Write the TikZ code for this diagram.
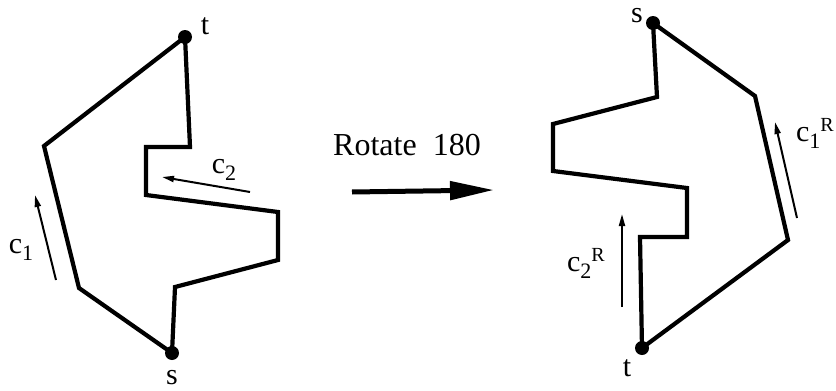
\documentclass[tikz,border=0pt]{standalone}
\usepackage{fontspec}
\setmainfont{Liberation Serif}
\usetikzlibrary{arrows.meta, positioning}
\newcommand{\csub}[1]{\raisebox{-7pt}{\fontsize{22}{22}\selectfont #1}}
\newcommand{\csup}[1]{\raisebox{10pt}{\fontsize{20}{20}\selectfont #1}}
\tikzset{
  every picture/.style={line join=miter},
  edge/.style={line width=4.2pt},
  dot/.style={circle, fill=black, minimum size=14pt, inner sep=0pt},
  lbl/.style={font=\fontsize{30}{34}\selectfont, inner sep=0pt},
  thinarrow/.style={-{Triangle[length=12pt,width=6pt]}, line width=2pt},
  bigarrow/.style={-{Triangle[length=44pt,width=18pt]}, line width=5pt},
}

\begin{document}
\begin{tikzpicture}[x=1pt, y=-1pt]
  \useasboundingbox (0,0) rectangle (836,391);
  % original path, s to t
  \node[dot] (ls) at (172,353) {};
  \node[dot] (lt) at (185,37) {};
  \draw[edge] (lt.center) -- (190,147) -- (146,147) -- (146,195) -- (278,212)
    -- (278,260) -- (175,287) -- (ls.center) -- (79,288) -- (44,146) -- cycle;
  \node[lbl] (tl) at (205,26) {t};
  \node[lbl] (sl) at (172,378) {s};
  % c1 and c2 on the left
  \coordinate (c1a) at (56,280);
  \coordinate (c1b) at (35,195);
  \draw[thinarrow] (c1a) -- (c1b);
  \node[lbl] (c1l) at (21,250) {c\csub{1}};
  \coordinate (c2a) at (250,192);
  \coordinate (c2b) at (162,177);
  \draw[thinarrow] (c2a) -- (c2b);
  \node[lbl] (c2l) at (224,170) {c\csub{2}};
  % rotation
  \node[lbl, font=\fontsize{32}{36}\selectfont] (rot) at (407,145) {Rotate\ \ 180};
  \coordinate (ra) at (352,192);
  \coordinate (rb) at (494,190);
  \draw[bigarrow] (ra) -- (rb);
  % rotated path
  \node[dot] (rs) at (653,23) {};
  \node[dot] (rt) at (642,348) {};
  \draw[edge] (rs.center) -- (657,97) -- (553,124) -- (553,171) -- (687,188)
    -- (687,237) -- (640,237) -- (rt.center) -- (788,240) -- (755,96) -- cycle;
  \node[lbl] (sr) at (637,16) {s};
  \node[lbl] (tr) at (627,368) {t};
  \coordinate (c1ra) at (797,218);
  \coordinate (c1rb) at (775,122);
  \draw[thinarrow] (c1ra) -- (c1rb);
  \node[lbl] (c1rl) at (815,133) {c\csub{1}\csup{R}};
  \coordinate (c2ra) at (622,307);
  \coordinate (c2rb) at (622,214);
  \draw[thinarrow] (c2ra) -- (c2rb);
  \node[lbl] (c2rl) at (586,263) {c\csub{2}\csup{R}};
\end{tikzpicture}
\end{document}
